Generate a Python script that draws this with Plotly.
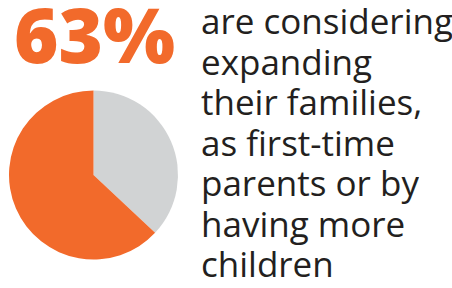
import plotly.graph_objects as go

# Data
labels = ["Not considering", "Considering expanding families"]
values = [37, 63]
colors = ["#D1D3D4", "#F26A2B"]
headline = "63%"
text_lines = [
    "are considering",
    "expanding",
    "their families,",
    "as first-time",
    "parents or by",
    "having more",
    "children",
]

W, H = 452, 288

fig = go.Figure()
fig.add_trace(go.Pie(
    labels=labels,
    values=values,
    marker=dict(colors=colors, line=dict(width=0)),
    sort=False,
    direction="clockwise",
    rotation=0,
    textinfo="none",
    hoverinfo="label+percent",
    showlegend=False,
    domain=dict(x=[9 / W, 178 / W], y=[1 - 260 / H, 1 - 90 / H]),
))

annotations = []
hfs = 76
hbase = 62.5
annotations.append(dict(
    text=headline, xref="paper", yref="paper",
    x=14 / W, y=1 - (hbase + 0.30 * hfs) / H, xanchor="left", yanchor="bottom",
    height=82, valign="bottom", borderpad=0, borderwidth=0,
    showarrow=False,
    font=dict(family="Open Sans", size=hfs, color="#F26A2B", weight=800),
))

base0 = 34
step = 40.4
fs = 35
for i, line in enumerate(text_lines):
    baseline = base0 + i * step
    annotations.append(dict(
        text=line, xref="paper", yref="paper",
        x=201 / W, y=1 - (baseline + 0.30 * fs) / H,
        xanchor="left", yanchor="bottom",
        height=40, valign="bottom", borderpad=0, borderwidth=0,
        showarrow=False,
        font=dict(family="Open Sans", size=fs, color="#231F20"),
    ))

fig.update_layout(
    width=W, height=H,
    margin=dict(l=0, r=0, t=0, b=0),
    paper_bgcolor="white",
    plot_bgcolor="white",
    annotations=annotations,
)

fig.write_html(
    "out.html",
    config={"displayModeBar": False},
    post_script="document.body.style.margin='0';document.body.style.overflow='hidden';",
)
